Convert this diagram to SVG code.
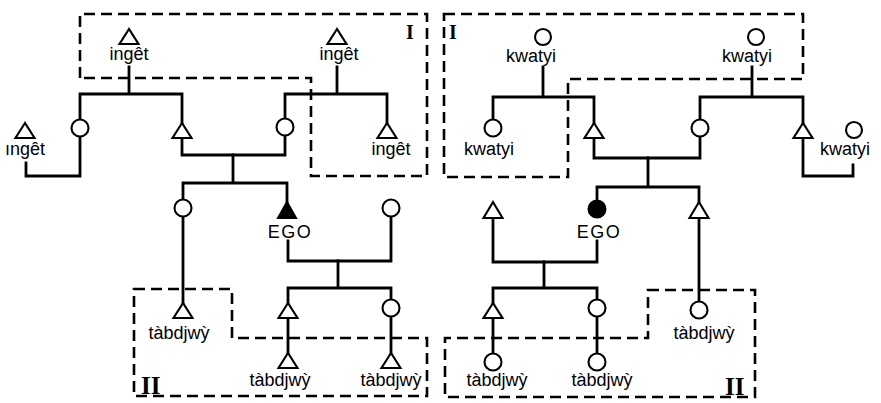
<svg xmlns="http://www.w3.org/2000/svg" width="881" height="403" viewBox="0 0 881 403">
<style>
.bg{fill:#fff}
.ln{fill:none;stroke:#000;stroke-width:2.8;stroke-linecap:square;stroke-linejoin:miter}
.box{fill:none;stroke:#000;stroke-width:2.6;stroke-dasharray:11 6}
.c{fill:#fff;stroke:#000;stroke-width:2.1}
.t{fill:#fff;stroke:#000;stroke-width:2.1;stroke-linejoin:miter}
.f{fill:#000;stroke:#000;stroke-width:2}
.lb{font-family:"Liberation Sans",Arial,sans-serif;font-size:18px;fill:#000;text-anchor:middle}
.ego{font-family:"Liberation Sans",Arial,sans-serif;font-size:18px;fill:#000;text-anchor:middle;letter-spacing:1.5px}
.rn{font-family:"Liberation Serif","Times New Roman",serif;font-weight:bold;fill:#000}
</style>
<rect class="bg" x="0" y="0" width="881" height="403"/>

<g id="groups">
  <path id="boxI-left" class="box" d="M80,78 V14 H427 V176 H311 V78 Z"/>
  <path id="boxII-left" class="box" d="M134,289 H232 V338 H427 V396 H134 Z"/>
  <path id="boxI-right" class="box" d="M444,14 H803 V79 H568 V177 H444 Z"/>
  <path id="boxII-right" class="box" d="M648,290 H755 V397 H445 V338 H648 Z"/>
  <text class="rn" x="406" y="39" font-size="20">I</text>
  <text class="rn" x="449" y="39" font-size="20">I</text>
  <text class="rn" x="141" y="394" font-size="25">II</text>
  <text class="rn" x="725" y="395" font-size="25">II</text>
</g>

<g id="connectors">
  <!-- left diagram -->
  <path class="ln" d="M129,67 V94 M80,94 H182 M80,94 V119 M182,94 V123"/>
  <path class="ln" d="M80,137 V176 H26 V163"/>
  <path class="ln" d="M182,138 V155 H285 V136"/>
  <path class="ln" d="M285,118 V94 H387 V123 M337,94 V67"/>
  <path class="ln" d="M233,155 V183 M183,183 H287 M183,183 V199 M287,183 V202"/>
  <path class="ln" d="M183,217 V303"/>
  <path class="ln" d="M288,241 V261 H391 V217"/>
  <path class="ln" d="M338,261 V288 M288,288 H391 M288,288 V303 M391,288 V299"/>
  <path class="ln" d="M288,318 V353"/>
  <path class="ln" d="M391,317 V353"/>
  <!-- right diagram -->
  <path class="ln" d="M543,67 V97 M493,97 H594 M493,97 V119 M594,97 V123"/>
  <path class="ln" d="M594,138 V158 H700 V137"/>
  <path class="ln" d="M700,119 V97 H803 V123 M752,97 V67"/>
  <path class="ln" d="M803,138 V176 H853 V165"/>
  <path class="ln" d="M648,158 V187 M597,187 H699 M597,187 V200 M699,187 V202"/>
  <path class="ln" d="M493,218 V262 H597 V241"/>
  <path class="ln" d="M544,262 V288 M493,288 H597 M493,288 V303 M597,288 V299"/>
  <path class="ln" d="M493,318 V353"/>
  <path class="ln" d="M597,317 V353"/>
  <path class="ln" d="M699,218 V301"/>
</g>

<!-- left nodes -->
<g id="L-ingetTop1"><polygon class="t" points="129,29 119.5,44 138.5,44"/><text class="lb" x="129" y="60">ingêt</text></g>
<g id="L-ingetTop2"><polygon class="t" points="337,29 327.5,44 346.5,44"/><text class="lb" x="339" y="60">ingêt</text></g>
<g id="L-ingetLeft"><polygon class="t" points="25,123 15.5,138 34.5,138"/><text class="lb" x="25" y="155">ıngêt</text></g>
<g id="L-ingetRight"><polygon class="t" points="387,123 377.5,138 396.5,138"/><text class="lb" x="391" y="155">ingêt</text></g>
<g id="L-circ1"><circle class="c" cx="80" cy="128" r="8.5"/></g>
<g id="L-tri1"><polygon class="t" points="182,123 172.5,138 191.5,138"/></g>
<g id="L-circ2"><circle class="c" cx="285" cy="127" r="8.5"/></g>
<g id="L-circ3"><circle class="c" cx="183" cy="208" r="8.5"/></g>
<g id="L-ego"><polygon class="f" points="287,202 278,218 296,218"/><text class="ego" x="290" y="238">EGO</text></g>
<g id="L-circ4"><circle class="c" cx="391" cy="208" r="8.5"/></g>
<g id="L-tab1"><polygon class="t" points="183,303 173.5,318 192.5,318"/><text class="lb" x="179" y="339">tàbdjwỳ</text></g>
<g id="L-tri2"><polygon class="t" points="288,303 278.5,318 297.5,318"/></g>
<g id="L-circ5"><circle class="c" cx="391" cy="308" r="8.5"/></g>
<g id="L-tab2"><polygon class="t" points="288,353 278.5,368 297.5,368"/><text class="lb" x="280" y="386">tàbdjwỳ</text></g>
<g id="L-tab3"><polygon class="t" points="391,353 381.5,368 400.5,368"/><text class="lb" x="391" y="386">tàbdjwỳ</text></g>

<!-- right nodes -->
<g id="R-kwatyiTop1"><circle class="c" cx="543" cy="37" r="8"/><text class="lb" x="531" y="62">kwatyi</text></g>
<g id="R-kwatyiTop2"><circle class="c" cx="756" cy="37" r="8"/><text class="lb" x="747" y="62">kwatyi</text></g>
<g id="R-kwatyiLeft"><circle class="c" cx="493" cy="128" r="8.5"/><text class="lb" x="489" y="155">kwatyi</text></g>
<g id="R-kwatyiRight"><circle class="c" cx="854" cy="130" r="8"/><text class="lb" x="845" y="155">kwatyi</text></g>
<g id="R-tri1"><polygon class="t" points="594,123 584.5,138 603.5,138"/></g>
<g id="R-circ1"><circle class="c" cx="700" cy="128" r="8.5"/></g>
<g id="R-tri2"><polygon class="t" points="803,123 793.5,138 812.5,138"/></g>
<g id="R-tri3"><polygon class="t" points="493,202 483.5,218 502.5,218"/></g>
<g id="R-ego"><circle class="f" cx="597" cy="209" r="8.5"/><text class="ego" x="599" y="238">EGO</text></g>
<g id="R-tri4"><polygon class="t" points="699,202 689.5,218 708.5,218"/></g>
<g id="R-tri5"><polygon class="t" points="493,303 483.5,318 502.5,318"/></g>
<g id="R-circ2"><circle class="c" cx="597" cy="308" r="8.5"/></g>
<g id="R-tab1"><circle class="c" cx="493" cy="362" r="8.5"/><text class="lb" x="497" y="386">tàbdjwỳ</text></g>
<g id="R-tab2"><circle class="c" cx="597" cy="362" r="8.5"/><text class="lb" x="602" y="386">tàbdjwỳ</text></g>
<g id="R-tab3"><circle class="c" cx="699" cy="310" r="8.5"/><text class="lb" x="704" y="339">tàbdjwỳ</text></g>
</svg>
